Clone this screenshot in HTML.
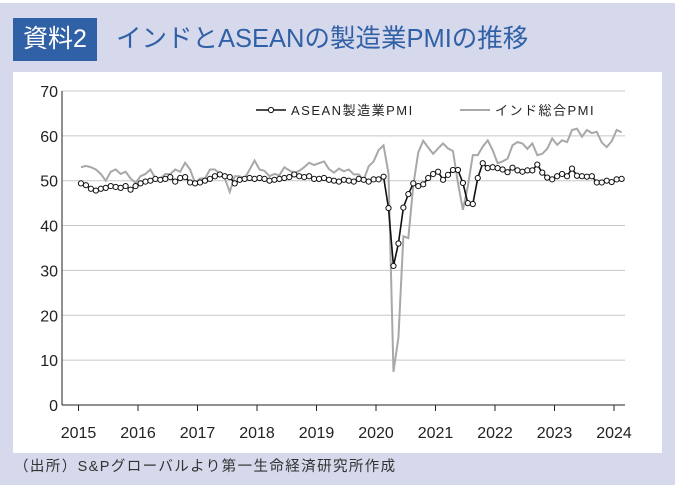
<!DOCTYPE html>
<html><head><meta charset="utf-8"><style>
body{margin:0;width:675px;height:485px;background:#d6d9eb;font-family:"Liberation Sans","Noto Sans CJK JP",sans-serif;position:relative;overflow:hidden}
.top{position:absolute;left:0;top:0;width:675px;height:3px;background:#fff}
.box{position:absolute;left:13px;top:18px;width:84px;height:43px;background:#3060a6;color:#fff;font-size:25px;line-height:43px;text-align:center}
.tt{position:absolute;left:116px;top:18px;line-height:43px;font-size:25.5px;color:#3060a6;letter-spacing:0px}
.panel{position:absolute;left:13px;top:72px;width:649px;height:381px;background:#fff}
.src{position:absolute;left:14px;top:455px;font-size:14.5px;color:#333;letter-spacing:1.4px}
</style></head><body>
<div class="top"></div>
<div class="box">資料2</div>
<div class="tt">インドとASEANの製造業PMIの推移</div>
<div class="panel"></div>
<svg id="s" width="675" height="485" style="position:absolute;left:0;top:0"></svg>
<div class="src">（出所）S&amp;Pグローバルより第一生命経済研究所作成</div>
<script>
var a=[49.4,49,48.2,47.8,48.2,48.4,48.8,48.6,48.4,48.8,48,48.8,
49.4,49.8,50,50.4,50.2,50.4,50.8,49.8,50.6,50.8,49.6,49.4,
49.6,50,50.4,51,51.4,51,50.8,49.4,50.2,50.4,50.6,50.4,
50.6,50.4,50,50.2,50.4,50.6,50.8,51.4,51,50.8,51,50.4,
50.4,50.6,50.2,50,49.8,50.2,50,49.8,50.4,50.2,49.8,50.3,
50.3,50.9,43.9,31,36,44,47,49.4,48.8,49.2,50.6,51.5,
52,50.2,51.3,52.4,52.4,49.5,45,44.8,50.6,53.9,52.8,53,
52.8,52.5,51.9,52.9,52.3,52,52.3,52.3,53.6,51.8,50.7,50.3,
51,51.5,51,52.7,51.1,51,50.9,51,49.6,49.6,50,49.7,50.3,50.4];
var b=[53,53.3,53,52.5,51.5,50,52,52.5,51.5,52,50.5,49.5,
51,51.5,52.5,50.5,50.5,51.5,51.5,52.5,52,54,52.5,49.5,
50.5,50.5,52.5,52.5,51.5,50.5,47.5,51,51,50.5,52.5,54.5,
52.5,52.2,51,51.5,51.2,53,52.3,51.7,52.2,53,54,53.5,
53.9,54.3,52.6,51.8,52.7,52.1,52.5,51.4,51.4,50.2,53.2,54.3,
56.8,57.9,51.6,7.4,15,37.6,37.2,49,56.3,58.9,57.4,56,
57.2,58.3,57.2,56.6,49.5,43.5,48.8,55.7,55.7,57.6,59,56.8,
53.9,54.3,54.9,57.9,58.6,58.3,57.1,58.3,55.7,56,57.1,59.4,
58,59,58.6,61.3,61.6,59.8,61.3,60.6,60.9,58.5,57.5,58.8,61.3,60.8];
function X(i){return 78.5+(i+0.5)*4.96}function Y(v){return 405-v*4.486}
var h='';
for(var k=1;k<=7;k++){var y=Y(k*10);h+='<line x1="62" x2="625" y1="'+y+'" y2="'+y+'" stroke="#c8c8c8" stroke-width="1"/>';}
for(k=0;k<=7;k++)h+='<text x="58" y="'+(Y(k*10)+6)+'" text-anchor="end" font-size="16" fill="#222">'+k*10+'</text>';
h+='<line x1="62" x2="62" y1="91" y2="405" stroke="#222"/><line x1="62" x2="625" y1="405" y2="405" stroke="#222"/>';
for(k=0;k<=9;k++){var x=78.5+k*59.5;h+='<line x1="'+x+'" x2="'+x+'" y1="405" y2="411" stroke="#222"/><text x="'+x+'" y="438" text-anchor="middle" font-size="16" fill="#222">'+(2015+k)+'</text>';}
var pb=b.map(function(v,i){return X(i)+','+Y(v)}).join(' ');
var pa=a.map(function(v,i){return X(i)+','+Y(v)}).join(' ');
h+='<polyline points="'+pb+'" fill="none" stroke="#a8a8a8" stroke-width="2"/>';
h+='<polyline points="'+pa+'" fill="none" stroke="#111" stroke-width="1.6"/>';
a.forEach(function(v,i){h+='<circle cx="'+X(i)+'" cy="'+Y(v)+'" r="2.6" fill="#fff" stroke="#111" stroke-width="1"/>';});
h+='<line x1="256" x2="286" y1="110" y2="110" stroke="#111" stroke-width="1.6"/><circle cx="271" cy="110" r="2.6" fill="#fff" stroke="#111"/>';
h+='<text x="291" y="115" font-size="13" letter-spacing="1.5" fill="#222">ASEAN製造業PMI</text>';
h+='<line x1="460" x2="490" y1="110" y2="110" stroke="#a8a8a8" stroke-width="2"/>';
h+='<text x="495" y="115" font-size="13" letter-spacing="1.5" fill="#222">インド総合PMI</text>';
document.getElementById('s').innerHTML=h;
</script>
</body></html>
